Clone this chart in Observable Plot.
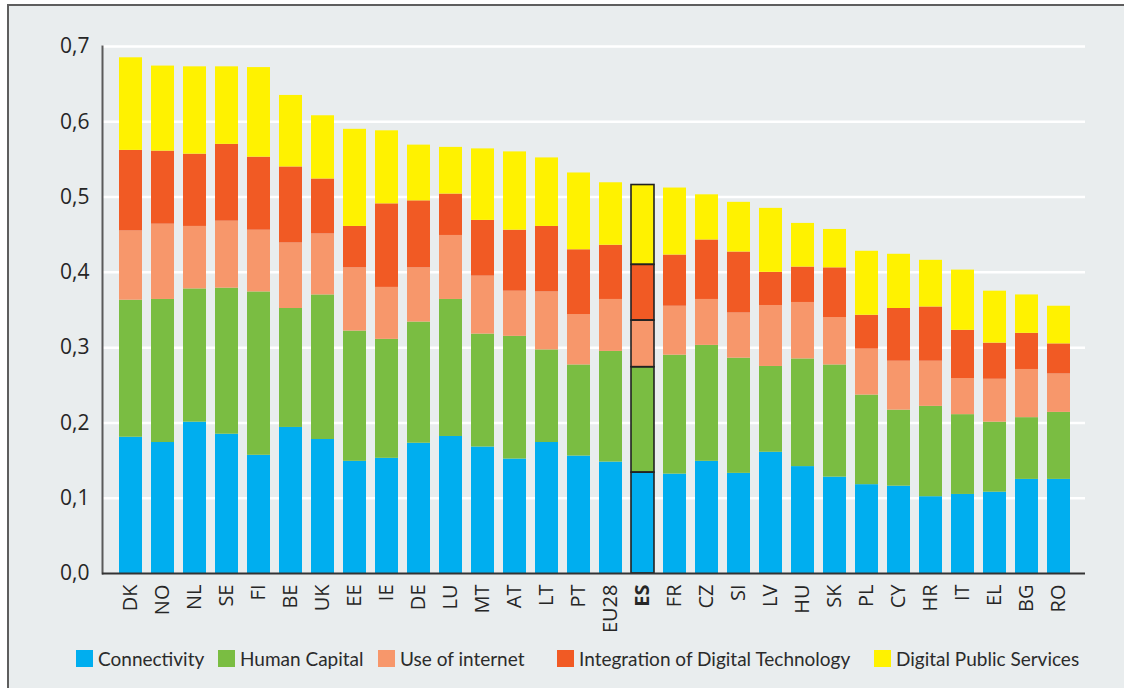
<!DOCTYPE html>
<html>
<head>
<meta charset="utf-8">
<script src="https://cdn.jsdelivr.net/npm/d3@7"></script>
<script src="https://cdn.jsdelivr.net/npm/@observablehq/plot@0.6"></script>
<style>
  html, body { margin: 0; padding: 0; background: #ffffff; width: 1124px; height: 688px; overflow: hidden; }
  #frame { position: absolute; left: 7px; top: 4px; width: 1130px; height: 700px;
           border-left: 2px solid #5e5e5e; border-top: 2px solid #5e5e5e; background: #e9edee; }
  #chart { position: absolute; left: 0; top: 0; }
  #legend { position: absolute; left: 0; top: 0; width: 1124px; height: 688px; pointer-events: none;
            font-family: Lato, "Open Sans", sans-serif; font-size: 19px; color: #2b2b2b; }
  .item { position: absolute; top: 647px; display: flex; align-items: center; white-space: nowrap; }
  .sw { width: 17px; height: 17px; margin-right: 5px; }
</style>
</head>
<body>
<div id="frame"></div>
<div id="chart"></div>
<div id="legend"></div>
<script>
const countries = ["DK","NO","NL","SE","FI","BE","UK","EE","IE","DE","LU","MT","AT","LT","PT","EU28","ES","FR","CZ","SI","LV","HU","SK","PL","CY","HR","IT","EL","BG","RO"];
const connectivity   = [0.181,0.174,0.201,0.185,0.157,0.194,0.178,0.149,0.153,0.173,0.182,0.168,0.152,0.174,0.156,0.148,0.134,0.132,0.149,0.133,0.161,0.142,0.128,0.118,0.116,0.102,0.105,0.108,0.125,0.125];
const humanCapital   = [0.182,0.190,0.177,0.194,0.217,0.158,0.192,0.173,0.158,0.161,0.182,0.150,0.163,0.123,0.121,0.147,0.140,0.158,0.154,0.153,0.114,0.143,0.149,0.119,0.101,0.120,0.106,0.093,0.082,0.089];
const useOfInternet  = [0.092,0.100,0.083,0.089,0.082,0.087,0.081,0.084,0.069,0.072,0.085,0.077,0.060,0.077,0.067,0.069,0.062,0.065,0.061,0.060,0.081,0.075,0.063,0.061,0.065,0.060,0.048,0.057,0.064,0.051];
const integration    = [0.107,0.097,0.096,0.102,0.097,0.101,0.073,0.055,0.111,0.089,0.055,0.074,0.081,0.087,0.086,0.072,0.074,0.068,0.079,0.081,0.044,0.047,0.066,0.045,0.070,0.072,0.064,0.048,0.048,0.040];
const publicServices = [0.123,0.113,0.116,0.103,0.119,0.095,0.084,0.129,0.097,0.074,0.062,0.095,0.104,0.091,0.102,0.083,0.106,0.089,0.060,0.066,0.085,0.058,0.051,0.085,0.072,0.062,0.080,0.069,0.051,0.050];

const seriesNames = ["Connectivity","Human Capital","Use of internet","Integration of Digital Technology","Digital Public Services"];
const seriesColors = ["#00aeef","#7abd42","#f7976b","#f15a24","#fff200"];
const seriesValues = [connectivity, humanCapital, useOfInternet, integration, publicServices];
const yTicks = [0,0.1,0.2,0.3,0.4,0.5,0.6,0.7];
const highlight = "ES";

const rows = [];
countries.forEach((c, i) => {
  seriesNames.forEach((s, j) => rows.push({country: c, series: s, value: seriesValues[j][i]}));
});

const chart = Plot.plot({
  width: 1124,
  height: 645,
  marginLeft: 102,
  marginRight: 39,
  marginTop: 46,
  marginBottom: 72,
  style: {background: "transparent", fontFamily: "'Open Sans', sans-serif", color: "#262626"},
  x: {domain: countries, padding: 0.27, insetLeft: 3, label: null},
  y: {domain: [0, 0.7], label: null},
  color: {domain: seriesNames, range: seriesColors},
  marks: [
    Plot.ruleY(yTicks.slice(1), {stroke: "#ffffff", strokeWidth: 2.5}),
    Plot.barY(rows, {x: "country", y: "value", fill: "series", order: seriesNames}),
    Plot.barY(rows, {x: "country", y: "value", z: "series", order: seriesNames, stroke: "#222", strokeWidth: 1.6, fill: "none",
      filter: d => d.country === highlight}),
    Plot.axisY({ticks: yTicks, tickFormat: d => d.toFixed(1).replace(".", ","), tickSize: 0, tickPadding: 13, fontSize: 21, label: null}),
    Plot.axisX({tickRotate: -90, tickSize: 0, tickPadding: 11, fontSize: 20, label: null}),
    Plot.frame({anchor: "left", stroke: "#5a5a5a", strokeWidth: 2}),
    Plot.ruleY([0], {stroke: "#333", strokeWidth: 2})
  ]
});
d3.select(chart).selectAll("g[aria-label='x-axis tick label'] text")
  .filter(function() { return this.textContent === highlight; })
  .attr("font-weight", "bold");
document.getElementById("chart").appendChild(chart);

const legendX = [76, 218, 378, 557, 874];
const legend = document.getElementById("legend");
seriesNames.forEach((s, j) => {
  const it = document.createElement("div");
  it.className = "item";
  it.style.left = legendX[j] + "px";
  const sw = document.createElement("span");
  sw.className = "sw";
  sw.style.background = seriesColors[j];
  const tx = document.createElement("span");
  tx.textContent = s;
  it.appendChild(sw); it.appendChild(tx);
  legend.appendChild(it);
});
</script>
</body>
</html>
